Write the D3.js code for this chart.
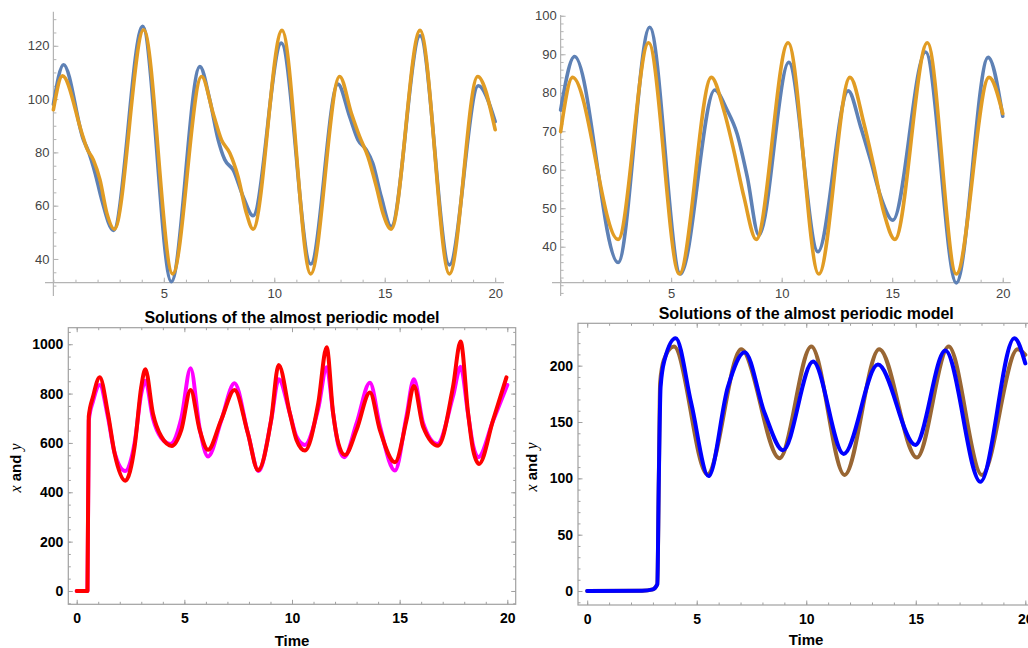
<!DOCTYPE html>
<html>
<head>
<meta charset="utf-8">
<script src="https://cdn.jsdelivr.net/npm/d3@7"></script>
<style>
  html, body { margin: 0; padding: 0; background: #fff; }
  svg { display: block; }
</style>
</head>
<body>
<svg id="chart" width="1028" height="648"></svg>
<script>
// ---------------- DATA ----------------
// Top-left panel: [time, value]
const tlBlue = [[0,98],[0.46,112.9],[1.36,84.7],[1.59,80.3],[1.89,72.2],[2.19,62.2],[2.72,50.7],[4.04,127.3],[5.34,31.5],[6.63,112.2],[7.08,99.7],[7.46,84.7],[7.76,77.2],[8.14,73.4],[8.59,63.4],[9.04,56.2],[10.32,121],[11.65,38.1],[12.88,105.6],[13.41,93.5],[13.79,84.7],[14.16,81],[14.46,75.9],[14.84,63.4],[15.29,52.2],[16.6,123.8],[17.93,37.8],[19.24,105],[20,91.6]];
const tlOrange = [[0,96],[0.41,108.7],[1.29,87.2],[1.51,81.6],[1.81,77.2],[2.11,69.7],[2.42,57.2],[2.76,51.2],[4.09,126],[5.4,34.4],[6.71,108.5],[7.23,94.7],[7.61,84.7],[7.99,79.7],[8.36,70.9],[8.74,57.2],[9.04,51.2],[10.35,125.8],[11.65,34.4],[12.96,108.5],[13.49,94.7],[13.86,86],[14.24,78.4],[14.62,67.2],[14.92,57.2],[15.29,51.2],[16.6,125.8],[17.93,34.4],[19.21,108.5],[20,88.5]];
const tlXTicks = [5,10,15,20];
const tlYTicks = [40,60,80,100,120];

// Top-right panel
const trBlue = [[0,75.5],[0.63,89.4],[2.6,35.9],[4.03,97],[5.42,32.9],[6.97,80.7],[7.53,75.5],[7.98,69.4],[8.44,58.2],[8.97,43],[10.32,87.9],[11.64,38.7],[13.01,80.5],[13.57,71.2],[14.02,62.5],[14.48,53],[15.03,46.9],[16.51,90.6],[17.9,30.6],[19.34,89.2],[20,73.9]];
const trOrange = [[0,69.9],[0.54,84],[2.6,41.9],[3.98,93],[5.37,32.9],[6.82,84],[7.38,75.5],[7.83,65.1],[8.29,53],[8.85,41.9],[10.29,93],[11.68,32.9],[13.09,84],[13.72,72],[14.17,60.8],[14.63,48.7],[15.12,41.9],[16.59,93],[17.9,32.9],[19.38,84],[20,74.6]];
const trXTicks = [5,10,15,20];
const trYTicks = [40,50,60,70,80,90,100];

// Bottom-left panel
const blRed = [[0,0],[0.5,0],[0.56,707],[0.76,788],[1.07,866],[1.45,720],[1.76,558],[2.26,447],[2.69,585],[3.0,828],[3.19,899],[3.54,720],[3.93,626],[4.42,588],[4.86,653],[5.29,815],[5.71,653],[6.1,572],[6.71,693],[7.33,815],[7.95,639],[8.42,490],[9.03,693],[9.38,916],[9.9,720],[10.21,612],[10.6,569],[11.22,761],[11.61,988],[11.91,720],[12.15,599],[12.46,551],[13.0,653],[13.62,804],[14.08,653],[14.78,522],[15.32,693],[15.66,831],[16.09,666],[16.79,589],[17.48,828],[17.83,1011],[18.18,720],[18.41,572],[18.69,515],[19.34,693],[19.96,866]];
const blMagenta = [[0,0],[0.5,0],[0.56,690],[0.76,770],[1.07,835],[1.45,705],[1.76,560],[2.26,486],[2.69,600],[3.0,800],[3.19,852],[3.54,700],[3.93,620],[4.35,596],[4.86,700],[5.29,903],[5.71,660],[6.1,545],[6.71,690],[7.33,842],[7.95,640],[8.45,486],[9.03,690],[9.38,858],[9.9,720],[10.21,625],[10.6,592],[11.22,740],[11.61,907],[11.91,720],[12.15,590],[12.42,542],[13.0,680],[13.62,844],[14.08,670],[14.78,488],[15.32,710],[15.66,858],[16.09,680],[16.75,596],[17.48,790],[17.83,909],[18.18,715],[18.41,590],[18.65,542],[19.34,690],[20,835]];
const blXTicks = [0,5,10,15,20];
const blYTicks = [0,200,400,600,800,1000];

// Bottom-right panel
const brBlue = [[0,0],[2.5,0.3],[3.0,1.5],[3.2,6],[3.27,100],[3.35,181],[3.53,205],[4.04,224.4],[4.75,166.7],[5.54,102],[6.42,181],[7.19,212],[8.1,158],[8.94,125],[10.31,203.6],[11.71,121.7],[13.27,201],[14.98,129.7],[16.35,213.4],[17.95,97],[19.5,224.4],[20,202]];
const brBrown = [[0,0],[2.5,0.3],[3.0,1.5],[3.2,6],[3.27,100],[3.33,185],[3.5,205],[3.96,217],[5.48,103.5],[7.03,214.6],[8.78,117.8],[10.23,217],[11.75,103],[13.33,214.6],[15.05,118.5],[16.5,217],[18.02,103],[19.65,214.6],[20,209.6]];
const brXTicks = [0,5,10,15,20];
const brYTicks = [0,50,100,150,200];

const titleText = "Solutions of the almost periodic model";
const xLabelText = "Time";

// ---------------- DRAWING ----------------
const svg = d3.select("#chart");
svg.append("rect").attr("width",1028).attr("height",648).attr("fill","#fff");

const range = (a,b,s) => d3.range(a, b + s/2, s);
const fmt = d3.format("d");

function styleAxis(g, color, fontFamily, fontSize, fontWeight, textColor) {
  g.select(".domain").remove();
  g.selectAll(".tick line").attr("stroke", color).attr("stroke-width", 1);
  g.selectAll(".tick text").attr("fill", textColor).attr("font-family", fontFamily)
    .attr("font-size", fontSize).attr("font-weight", fontWeight);
}

function drawLine(g, x, y, data, color, width) {
  const line = d3.line().x(d => x(d[0])).y(d => y(d[1])).curve(d3.curveMonotoneX);
  g.append("path").datum(data).attr("d", line).attr("fill","none")
    .attr("stroke", color).attr("stroke-width", width)
    .attr("stroke-linejoin","round").attr("stroke-linecap","round");
}

// Axes-style panel (top row)
function axesPanel(cfg) {
  const g = svg.append("g");
  const x = d3.scaleLinear().domain(cfg.xDomain).range(cfg.xRange);
  const y = d3.scaleLinear().domain(cfg.yDomain).range(cfg.yRange);
  const axCol = "#b4b4b4";
  const fam = "Liberation Sans, Arial, sans-serif";
  const xAxisY = y(cfg.xAxisAt), yAxisX = x(0);

  const xm = g.append("g").attr("transform", `translate(0,${xAxisY})`)
    .call(d3.axisBottom(x).tickValues(range(0,20,1)).tickSize(-3).tickFormat(""));
  styleAxis(xm, axCol, fam, 13, "normal", "#444");
  const ym = g.append("g").attr("transform", `translate(${yAxisX},0)`)
    .call(d3.axisLeft(y).tickValues(cfg.yMinor).tickSize(-3).tickFormat(""));
  styleAxis(ym, axCol, fam, 13, "normal", "#444");
  const xa = g.append("g").attr("transform", `translate(0,${xAxisY})`)
    .call(d3.axisBottom(x).tickValues(cfg.xTicks).tickSize(-5).tickPadding(6).tickFormat(fmt));
  styleAxis(xa, axCol, fam, 13, "normal", "#444");
  const ya = g.append("g").attr("transform", `translate(${yAxisX},0)`)
    .call(d3.axisLeft(y).tickValues(cfg.yTicks).tickSize(-5).tickPadding(4).tickFormat(fmt));
  styleAxis(ya, axCol, fam, 13, "normal", "#444");
  g.append("line").attr("x1", cfg.xRange[0]).attr("x2", cfg.xRange[1])
    .attr("y1", xAxisY).attr("y2", xAxisY).attr("stroke", axCol).attr("stroke-width", 1.2);
  g.append("line").attr("x1", yAxisX).attr("x2", yAxisX)
    .attr("y1", cfg.yRange[0]).attr("y2", cfg.yRange[1]).attr("stroke", axCol).attr("stroke-width", 1.2);

  cfg.series.forEach(s => drawLine(g, x, y, s.data, s.color, 3.6));
}

// Frame-style panel (bottom row)
function framePanel(cfg) {
  const g = svg.append("g");
  const x = d3.scaleLinear().domain(cfg.xDomain).range(cfg.xRange);
  const y = d3.scaleLinear().domain(cfg.yDomain).range(cfg.yRange);
  const frCol = "#a0a0a0";
  const fam = "Liberation Sans, Arial, sans-serif";
  const [x0, x1] = cfg.xRange, [y0, y1] = cfg.yRange;

  const xMinor = range(0,20,1);
  const ax = (sel, tr, axis) => styleAxis(sel.append("g").attr("transform", tr).call(axis), frCol, fam, 14, "bold", "#000");
  ax(g, `translate(0,${y0})`, d3.axisBottom(x).tickValues(xMinor).tickSize(-2.5).tickFormat(""));
  ax(g, `translate(0,${y0})`, d3.axisBottom(x).tickValues(cfg.xTicks).tickSize(-4.5).tickPadding(9).tickFormat(fmt));
  ax(g, `translate(0,${y1})`, d3.axisTop(x).tickValues(xMinor).tickSize(-2.5).tickFormat(""));
  ax(g, `translate(0,${y1})`, d3.axisTop(x).tickValues(cfg.xTicks).tickSize(-4.5).tickFormat(""));
  ax(g, `translate(${x0},0)`, d3.axisLeft(y).tickValues(cfg.yMinor).tickSize(-2.5).tickFormat(""));
  ax(g, `translate(${x0},0)`, d3.axisLeft(y).tickValues(cfg.yTicks).tickSize(-4.5).tickPadding(5).tickFormat(fmt));
  ax(g, `translate(${x1},0)`, d3.axisRight(y).tickValues(cfg.yMinor).tickSize(-2.5).tickFormat(""));
  ax(g, `translate(${x1},0)`, d3.axisRight(y).tickValues(cfg.yTicks).tickSize(-4.5).tickFormat(""));

  g.append("rect").attr("x", x0).attr("y", y1).attr("width", x1 - x0).attr("height", y0 - y1)
    .attr("fill","none").attr("stroke", frCol).attr("stroke-width", 1.2);

  cfg.series.forEach(s => drawLine(g, x, y, s.data, s.color, 4));

  g.append("text").attr("x", (x0 + Math.min(x1, cfg.visRight)) / 2 + cfg.titleDX).attr("y", cfg.titleY).attr("text-anchor","middle")
    .attr("font-family", fam).attr("font-weight","bold").attr("font-size", 16).attr("fill","#000")
    .text(titleText);
  g.append("text").attr("x", cfg.xLabelX).attr("y", cfg.xLabelY).attr("text-anchor","middle")
    .attr("font-family", fam).attr("font-weight","bold").attr("font-size", 15).attr("fill","#000")
    .text(xLabelText);
  const yl = g.append("text").attr("transform", `translate(${cfg.yLabelX},${cfg.yLabelCY}) rotate(-90)`)
    .attr("text-anchor","middle").attr("fill","#000");
  yl.append("tspan").attr("font-family","Liberation Serif, Times New Roman, serif").attr("font-style","italic").attr("font-size", 16).text("x");
  yl.append("tspan").attr("font-family", fam).attr("font-weight","bold").attr("font-size", 15).text(" and ");
  yl.append("tspan").attr("font-family","Liberation Serif, Times New Roman, serif").attr("font-style","italic").attr("font-size", 16).text("y");
}

axesPanel({
  xDomain: [-0.38, 20.4], xRange: [45, 504],
  yDomain: [26.1, 132.8], yRange: [296, 11.7],
  xAxisAt: 31.1, xTicks: tlXTicks, yTicks: tlYTicks, yMinor: range(30,130,5),
  series: [{data: tlBlue, color: "#5e81b5"}, {data: tlOrange, color: "#e19c24"}]
});

axesPanel({
  xDomain: [-0.39, 20.36], xRange: [552, 1010.7],
  yDomain: [27.2, 100.2], yRange: [296, 15],
  xAxisAt: 30.65, xTicks: trXTicks, yTicks: trYTicks, yMinor: range(28,100,2),
  series: [{data: trBlue, color: "#5e81b5"}, {data: trOrange, color: "#e19c24"}]
});

framePanel({
  xDomain: [-0.39, 20.39], xRange: [68.3, 515.7], visRight: 515.7, titleDX: 0,
  yDomain: [-54, 1067], yRange: [604.3, 327.7],
  xTicks: blXTicks, yTicks: blYTicks, yMinor: range(-50,1050,50),
  titleY: 323, xLabelX: 292, xLabelY: 646, yLabelX: 21, yLabelCY: 468,
  series: [{data: blMagenta, color: "#ff00ff"}, {data: blRed, color: "#ff0000"}]
});

framePanel({
  xDomain: [-0.42, 20.42], xRange: [578, 1034.5], visRight: 1034.5, titleDX: 0,
  yDomain: [-12.4, 237.6], yRange: [605, 323.3],
  xTicks: brXTicks, yTicks: brYTicks, yMinor: range(-10,230,10),
  titleY: 319, xLabelX: 806, xLabelY: 645, yLabelX: 537, yLabelCY: 467,
  series: [{data: brBrown, color: "#996633"}, {data: brBlue, color: "#0000ff"}]
});
</script>
</body>
</html>
